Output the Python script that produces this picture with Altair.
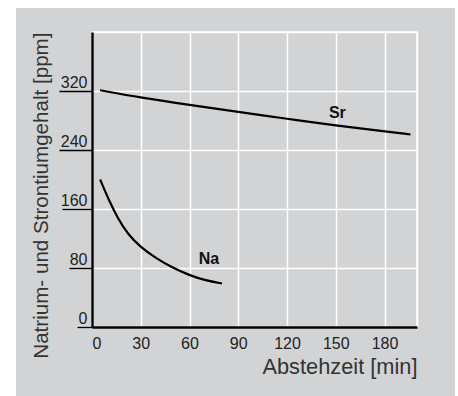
import altair as alt
import pandas as pd

# --- data ---
sr_t = [5, 30, 60, 90, 120, 150, 180, 196]
sr_v = [321, 311, 301, 291.5, 282.5, 273, 265.5, 261]
na_t = [5, 11, 16, 22, 30, 39, 49, 60, 70, 80]
na_v = [200, 169, 147, 126, 108, 94, 81, 70, 63, 59]

label_text = ["Sr", "Na"]
label_t = [151, 72]
label_v = [284, 86]

x_ticks = [0, 30, 60, 90, 120, 150, 180, 200]
y_ticks = [0, 40, 80, 120, 160, 200, 240, 280, 320, 360, 400]

W, H = 325, 295
GRAY = "#d2d3d5"
FONT = "Liberation Sans"

lines_df = pd.DataFrame(
    {"t": sr_t + na_t, "v": sr_v + na_v,
     "s": ["Sr"] * len(sr_t) + ["Na"] * len(na_t)}
)
labels_df = pd.DataFrame({"t": label_t, "v": label_v, "txt": label_text})
one = pd.DataFrame({"a": [0]})

x_enc = alt.X(
    "t:Q",
    scale=alt.Scale(domain=[0, 200], nice=False),
    axis=alt.Axis(
        values=x_ticks,
        labelExpr="datum.value == 200 ? '' : datum.label",
        title="Abstehzeit [min]",
        titleAnchor="end",
        titleBaseline="alphabetic",
        titleY=46,
        titleFontSize=21.8,
        titleFontWeight="normal",
        titleColor="#333333",
        titleFont=FONT,
        labelFont=FONT,
        labelFontSize=16,
        labelColor="#222222",
        labelPadding=8,
        ticks=False,
        domainColor="#000000",
        domainWidth=2.6,
        grid=True,
        gridColor="#ffffff",
        gridWidth=1.5,
    ),
)

tick_size = {
    "condition": [
        {"test": "datum.value == 0", "value": 15},
        {"test": "datum.value == 80", "value": 23},
        {"test": "datum.value == 160", "value": 30},
        {"test": "datum.value == 240 || datum.value == 320", "value": 33},
    ],
    "value": 0,
}
label_pad = {
    "condition": [
        {"test": "datum.value == 0", "value": -10},
        {"test": "datum.value == 80", "value": -18},
        {"test": "datum.value == 160", "value": -25},
        {"test": "datum.value == 240 || datum.value == 320", "value": -28},
    ],
    "value": 5,
}

y_enc = alt.Y(
    "v:Q",
    scale=alt.Scale(domain=[0, 400], nice=False),
    axis=alt.Axis(
        values=y_ticks,
        labelExpr="(datum.value % 80 == 0 && datum.value < 400) ? datum.label : ''",
        title="Natrium- und Strontiumgehalt [ppm]",
        titleAnchor="end",
        titleBaseline="alphabetic",
        titleX=-45,
        titleFontSize=20.6,
        titleFontWeight="normal",
        titleColor="#333333",
        titleFont=FONT,
        labelFont=FONT,
        labelFontSize=16,
        labelColor="#222222",
        labelBaseline="alphabetic",
        labelOffset=-4,
        labelPadding=label_pad,
        tickSize=tick_size,
        tickColor="#000000",
        tickWidth=1.3,
        domainColor="#000000",
        domainWidth=2.4,
        grid=True,
        gridColor="#ffffff",
        gridWidth=1.5,
    ),
)

lines = alt.Chart(lines_df).mark_line(
    color="#000000", strokeWidth=2.2, interpolate="basis"
).encode(x=x_enc, y=y_enc, detail="s:N", order="t:Q")

labels = alt.Chart(labels_df).mark_text(
    font=FONT, fontSize=16, fontWeight="bold", color="#111111",
    align="center", baseline="alphabetic",
).encode(x="t:Q", y="v:Q", text="txt:N")

# white margins around the grey panel
strip_left = alt.Chart(one).mark_rect(color="#ffffff").encode(
    x=alt.value(-92), x2=alt.value(-76), y=alt.value(-32), y2=alt.value(H + 69))
strip_top = alt.Chart(one).mark_rect(color="#ffffff").encode(
    x=alt.value(-92), x2=alt.value(W + 41), y=alt.value(-32), y2=alt.value(-24))
strip_right = alt.Chart(one).mark_rect(color="#ffffff").encode(
    x=alt.value(W + 38), x2=alt.value(W + 41), y=alt.value(-32), y2=alt.value(H + 69))

chart = alt.layer(strip_left, strip_top, strip_right, lines, labels).properties(
    width=W,
    height=H,
    autosize=alt.AutoSizeParams(type="none"),
    padding={"left": 92, "top": 32, "right": 41, "bottom": 69},
    background=GRAY,
).configure_view(stroke="#ffffff", strokeWidth=1.5)

chart.save("out.html", embed_options={"renderer": "svg", "actions": False})
